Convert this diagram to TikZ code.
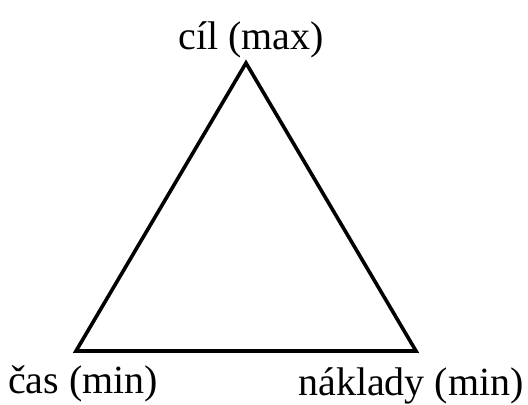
\documentclass[tikz,border=0pt]{standalone}
\usepackage{fontspec}
\setmainfont{Liberation Serif}
\usepackage{tikz}

\begin{document}
\begin{tikzpicture}[x=0.5pt,y=-0.5pt,
  label/.style={anchor=base, inner sep=0pt, font=\fontsize{20}{24}\selectfont}]
\useasboundingbox (0,0) rectangle (528,405);
\coordinate (cil) at (246,63);
\coordinate (cas) at (76,351);
\coordinate (naklady) at (416,351);
\draw[line width=1.8pt] (cil) -- (naklady) -- (cas) -- cycle;
\node[label] (lcil) at (251,50) {cíl (max)};
\node[label] (lcas) at (83,393) {čas (min)};
\node[label] (lnaklady) at (411,395) {náklady (min)};
\end{tikzpicture}
\end{document}
